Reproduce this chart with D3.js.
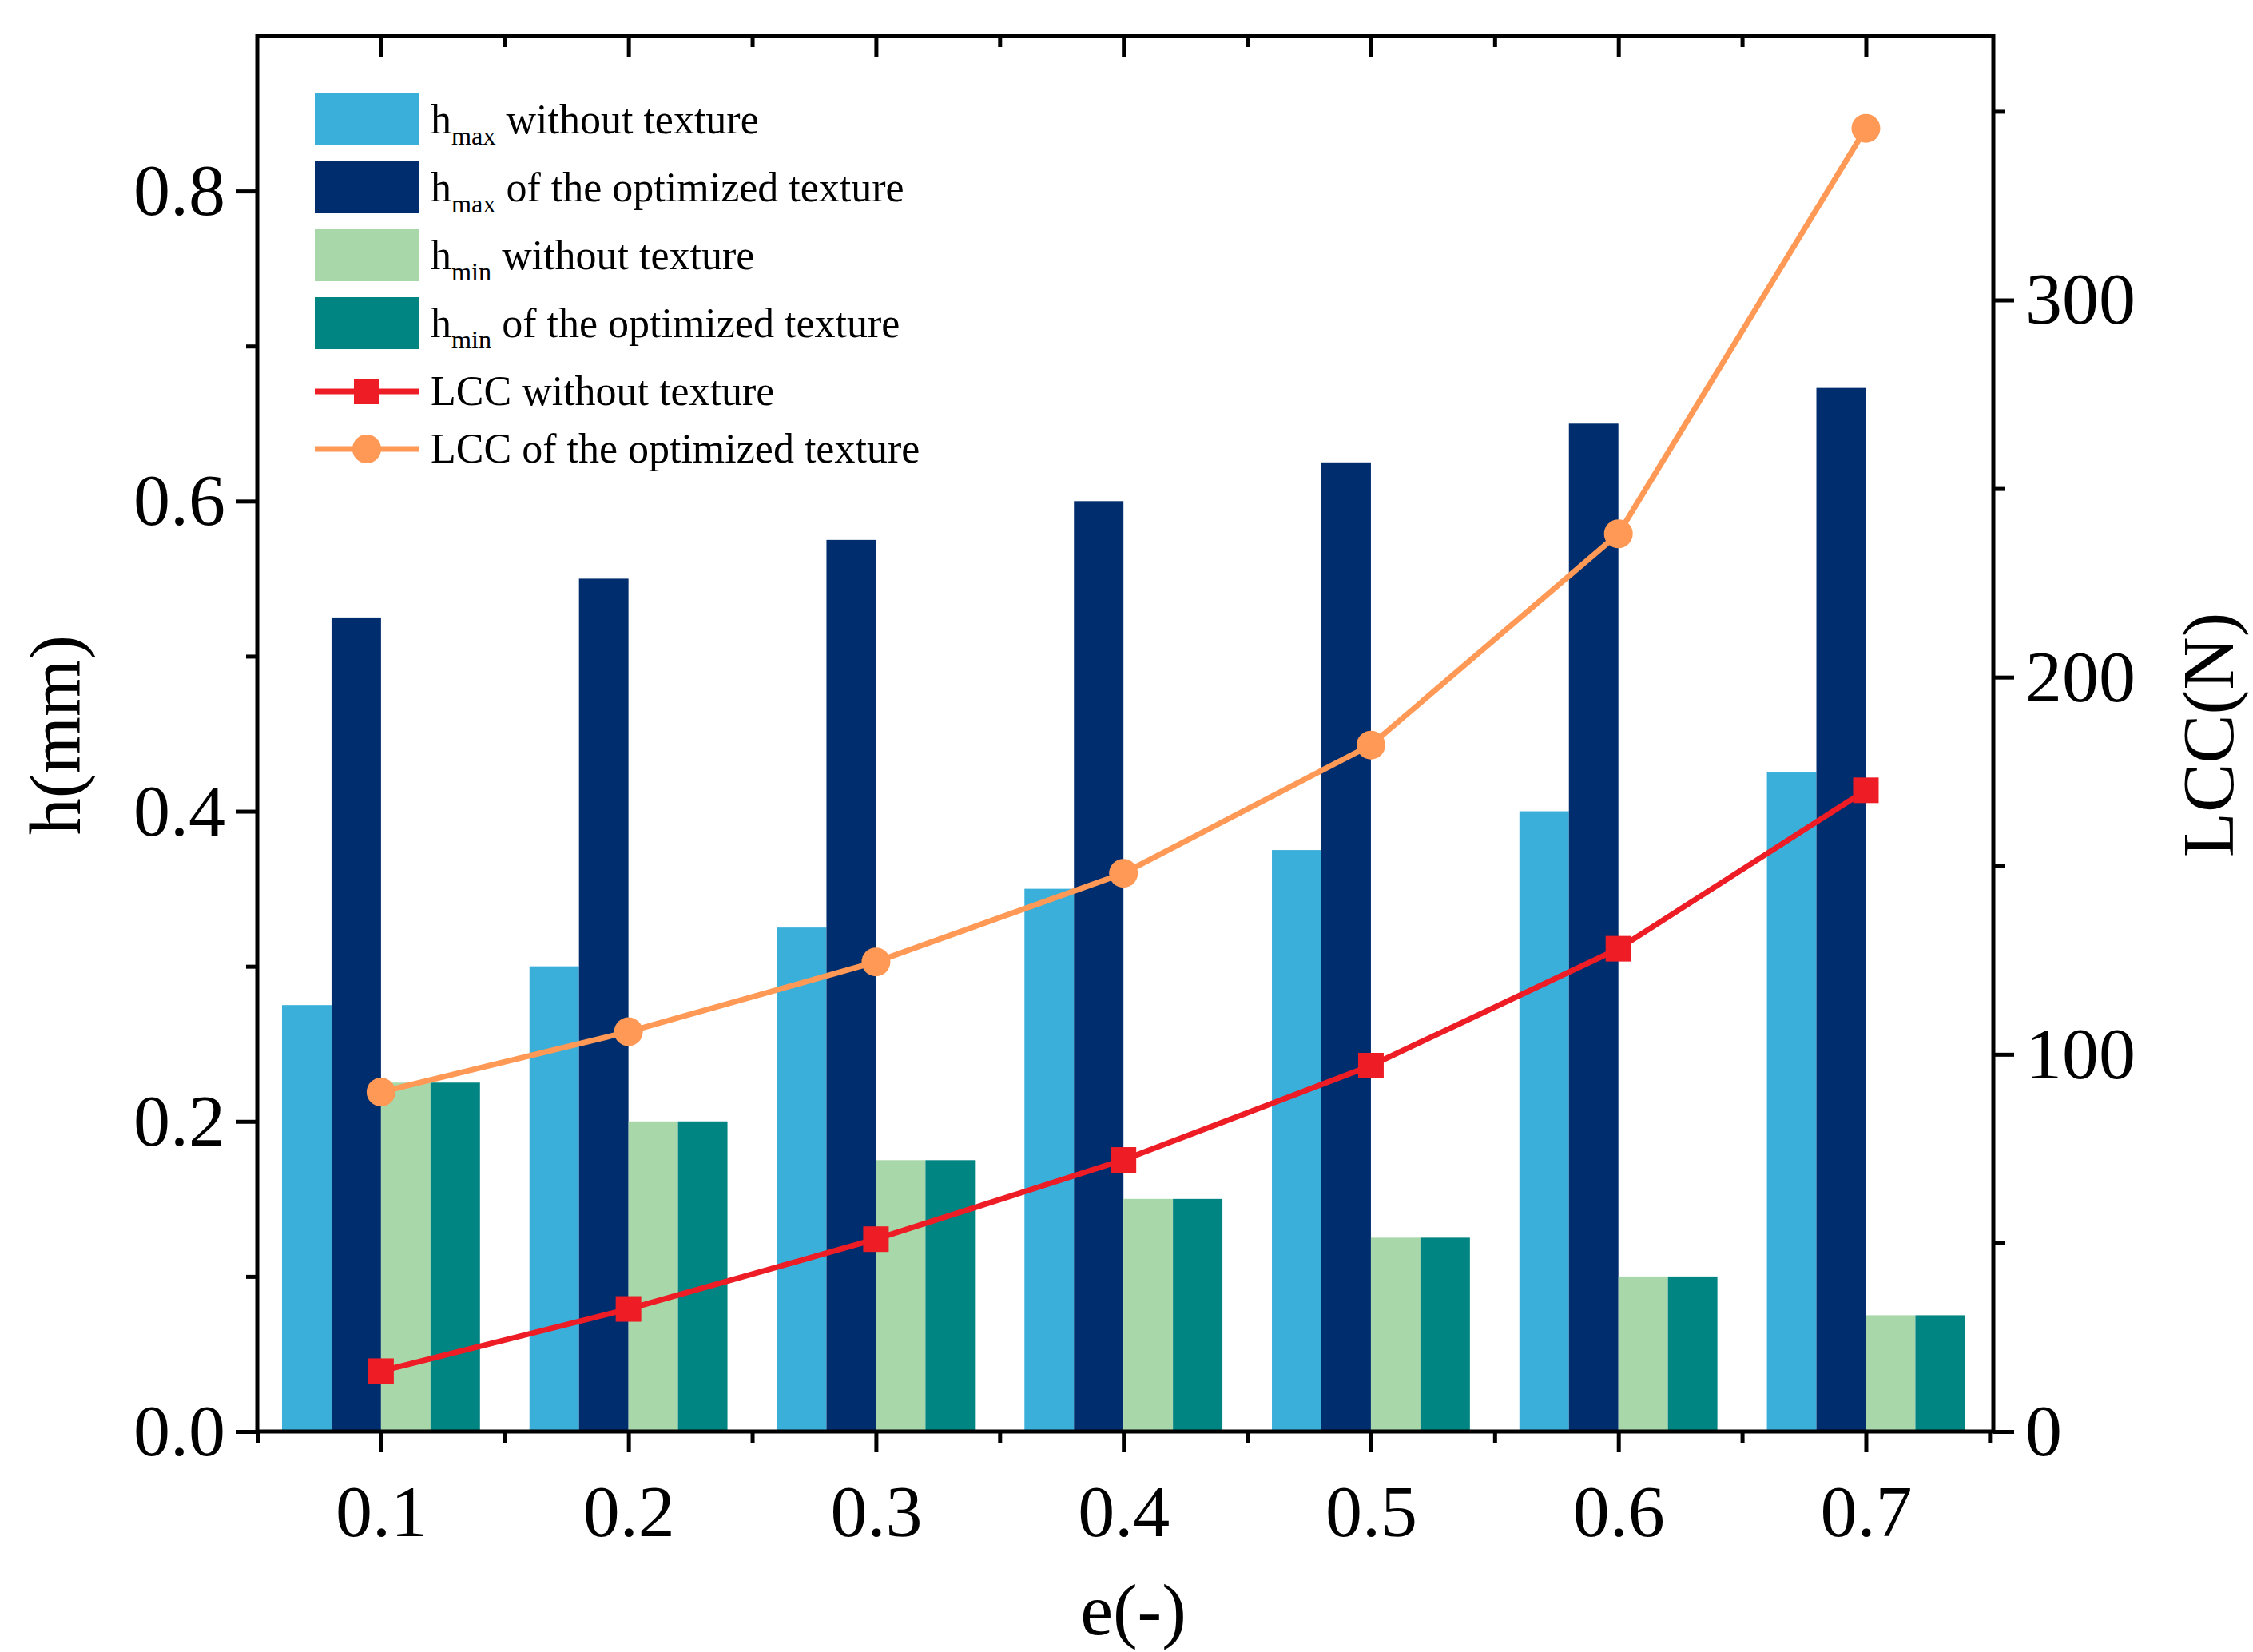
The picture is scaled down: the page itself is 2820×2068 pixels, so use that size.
<!DOCTYPE html>
<html>
<head>
<script src="https://d3js.org/d3.v7.min.js"></script>
<style>body{margin:0;background:#fff}</style>
</head>
<body>
<script>
const eVals = [0.1, 0.2, 0.3, 0.4, 0.5, 0.6, 0.7];
const hmaxWithout = [0.275, 0.3, 0.325, 0.35, 0.375, 0.4, 0.425];
const hmaxOpt = [0.525, 0.55, 0.575, 0.6, 0.625, 0.65, 0.673];
const hminWithout = [0.225, 0.2, 0.175, 0.15, 0.125, 0.1, 0.075];
const hminOpt = [0.225, 0.2, 0.175, 0.15, 0.125, 0.1, 0.075];
const lccWithout = [16, 32.5, 51, 72, 97, 128, 170];
const lccOpt = [90, 106, 124.5, 148, 182, 238, 345.5];
const xTicks = [0.1, 0.2, 0.3, 0.4, 0.5, 0.6, 0.7];
const yTicks = [0, 0.2, 0.4, 0.6, 0.8];
const y2Ticks = [0, 100, 200, 300];

const W = 2820, H = 2068;
const L = 322, R = 2495, T = 45, B = 1792;
const svg = d3.select('body').append('svg').attr('width', W).attr('height', H)
  .style('font-family', '"Liberation Serif", "Times New Roman", serif');

const x = d3.scaleLinear().domain([0.05, 0.7515]).range([L, R]);
const y = d3.scaleLinear().domain([0, 0.9]).range([B, T]);
const y2 = d3.scaleLinear().domain([0, 370]).range([B, T]);
const bw = 0.02;

const bars = [
  {vals: hmaxWithout, color: '#3AAFDA', off: -1.5},
  {vals: hmaxOpt, color: '#002D6E', off: -0.5},
  {vals: hminWithout, color: '#A8D8AA', off: 0.5},
  {vals: hminOpt, color: '#008582', off: 1.5}
];
bars.forEach(s => {
  svg.append('g').selectAll('rect').data(s.vals).join('rect')
    .attr('x', (d, i) => x(eVals[i] + (s.off - 0.5) * bw))
    .attr('width', x(bw) - x(0))
    .attr('y', d => y(d))
    .attr('height', d => y(0) - y(d))
    .attr('fill', s.color);
});

const line = d3.line().x((d, i) => x(eVals[i])).y(d => y2(d));
svg.append('path').datum(lccOpt).attr('d', line).attr('fill', 'none')
  .attr('stroke', '#FF9955').attr('stroke-width', 7);
svg.append('g').selectAll('circle').data(lccOpt).join('circle')
  .attr('cx', (d, i) => x(eVals[i])).attr('cy', d => y2(d)).attr('r', 18).attr('fill', '#FF9955');
svg.append('path').datum(lccWithout).attr('d', line).attr('fill', 'none')
  .attr('stroke', '#EE1C25').attr('stroke-width', 7);
svg.append('g').selectAll('rect').data(lccWithout).join('rect')
  .attr('x', (d, i) => x(eVals[i]) - 16).attr('y', d => y2(d) - 16)
  .attr('width', 32).attr('height', 32).attr('fill', '#EE1C25');

// axes
const fs = 92;
const bottom = svg.append('g').attr('transform', `translate(0,${B})`)
  .call(d3.axisBottom(x).tickValues(xTicks).tickSize(26).tickPadding(40).tickFormat(d3.format('.1f')));
svg.append('g').attr('transform', `translate(0,${B})`)
  .call(d3.axisBottom(x).tickValues(d3.range(0.05, 0.76, 0.1)).tickSize(14).tickFormat(''));
svg.append('g').attr('transform', `translate(0,${T})`)
  .call(d3.axisBottom(x).tickValues(xTicks).tickSize(26).tickFormat(''));
svg.append('g').attr('transform', `translate(0,${T})`)
  .call(d3.axisBottom(x).tickValues(d3.range(0.15, 0.7, 0.1)).tickSize(14).tickFormat(''));
svg.append('g').attr('transform', `translate(${L},0)`)
  .call(d3.axisLeft(y).tickValues(yTicks).tickSize(26).tickPadding(14).tickFormat(d3.format('.1f')));
svg.append('g').attr('transform', `translate(${L},0)`)
  .call(d3.axisLeft(y).tickValues([0.1, 0.3, 0.5, 0.7]).tickSize(14).tickFormat(''));
svg.append('g').attr('transform', `translate(${R},0)`)
  .call(d3.axisRight(y2).tickValues(y2Ticks).tickSize(26).tickPadding(14));
svg.append('g').attr('transform', `translate(${R},0)`)
  .call(d3.axisRight(y2).tickValues([50, 150, 250, 350]).tickSize(14).tickFormat(''));
svg.selectAll('.domain').attr('stroke', 'none');
svg.selectAll('.tick line').attr('stroke', '#000').attr('stroke-width', 5);
svg.selectAll('.tick text').attr('font-size', fs).attr('font-family', '"Liberation Serif", serif').attr('fill', '#000');
svg.append('rect').attr('x', L).attr('y', T).attr('width', R - L).attr('height', B - T)
  .attr('fill', 'none').attr('stroke', '#000').attr('stroke-width', 5);

svg.append('text').attr('x', (L + R) / 2 + 10).attr('y', 2046).attr('text-anchor', 'middle')
  .attr('font-size', fs).text('e(-)');
svg.append('text').attr('transform', 'translate(100,920) rotate(-90)').attr('text-anchor', 'middle')
  .attr('font-size', fs).text('h(mm)');
svg.append('text').attr('transform', 'translate(2795,920) rotate(-90)').attr('text-anchor', 'middle')
  .attr('font-size', fs).text('LCC(N)');

// legend
const leg = [
  {type: 'rect', color: '#3AAFDA', main: 'h', sub: 'max', rest: ' without texture'},
  {type: 'rect', color: '#002D6E', main: 'h', sub: 'max', rest: ' of the optimized texture'},
  {type: 'rect', color: '#A8D8AA', main: 'h', sub: 'min', rest: ' without texture'},
  {type: 'rect', color: '#008582', main: 'h', sub: 'min', rest: ' of the optimized texture'},
  {type: 'sq', color: '#EE1C25', main: 'LCC without texture'},
  {type: 'ci', color: '#FF9955', main: 'LCC of the optimized texture'}
];
const ly = [150, 235, 320, 405, 490, 562];
const lf = 52;
leg.forEach((d, i) => {
  const g = svg.append('g').attr('transform', `translate(394,${ly[i]})`);
  if (d.type === 'rect') {
    g.append('rect').attr('x', 0).attr('y', -33).attr('width', 130).attr('height', 65).attr('fill', d.color);
  } else {
    g.append('line').attr('x1', 0).attr('x2', 130).attr('stroke', d.color).attr('stroke-width', 7);
    if (d.type === 'sq') g.append('rect').attr('x', 49).attr('y', -16).attr('width', 32).attr('height', 32).attr('fill', d.color);
    else g.append('circle').attr('cx', 65).attr('r', 18).attr('fill', d.color);
  }
  const t = g.append('text').attr('x', 145).attr('y', 17).attr('font-size', lf);
  t.append('tspan').text(d.main);
  if (d.sub) {
    t.append('tspan').attr('font-size', lf * 0.62).attr('dy', 14).text(d.sub);
    t.append('tspan').attr('dy', -14).text(d.rest);
  }
});
</script>
</body>
</html>
